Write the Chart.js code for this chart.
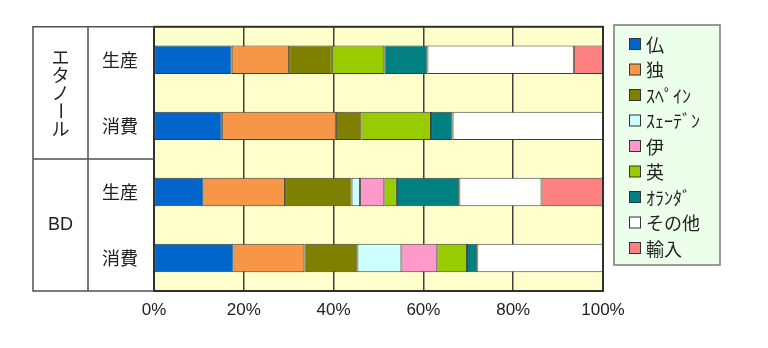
<!DOCTYPE html>
<html>
<head>
<meta charset="utf-8">
<script src="https://cdn.jsdelivr.net/npm/chart.js@4/dist/chart.umd.min.js"></script>
<style>
  html, body { margin: 0; padding: 0; background: #ffffff; }
  #wrap { width: 768px; height: 348px; }
</style>
</head>
<body>
<div id="wrap"><canvas id="c" width="768" height="348"></canvas></div>
<script>
// Row labels (bar categories) and the group each row belongs to
const rowLabels = ['生産', '消費', '生産', '消費'];
const groupLabels = ['エタノール', 'BD'];
const groupSpans = [[0, 1], [2, 3]];

// Share of each country/source in every row (percent)
const seriesNames = ['仏', '独', 'ｽﾍﾟｲﾝ', 'ｽｪｰﾃﾞﾝ', '伊', '英', 'ｵﾗﾝﾀﾞ', 'その他', '輸入'];
const france  = [17.3, 15.1, 11.0, 17.7];
const germany = [12.8, 25.4, 18.2, 15.8];
const spain   = [9.5,  5.7,  14.8, 11.8];
const sweden  = [0,    0,    1.9,  9.8];
const italy   = [0,    0,    5.4,  8.0];
const uk      = [11.7, 15.5, 2.8,  6.6];
const netherl = [9.6,  4.8,  13.9, 2.3];
const others  = [32.6, 33.5, 18.3, 28.0];
const imports = [6.5,  0,    13.7, 0];
const seriesValues = [france, germany, spain, sweden, italy, uk, netherl, others, imports];
const seriesColors = ['#0066CC', '#F79646', '#808000', '#CCFFFF', '#FF99CC', '#99CC00', '#008080', '#FFFFFF', '#FF8080'];

// Axis tick values
const xTicks = [0, 20, 40, 60, 80, 100];

const JP = '"Noto Sans CJK JP", "Noto Sans", sans-serif';
const LAT = '"Liberation Sans", Arial, sans-serif';
const LINE = '#404040';

// Pale yellow plot background and dark frame round the plot
const plotFrame = {
  id: 'plotFrame',
  beforeDraw(chart) {
    const a = chart.chartArea, ctx = chart.ctx;
    ctx.save();
    ctx.fillStyle = '#FFFFCC';
    ctx.fillRect(a.left, a.top, a.right - a.left, a.bottom - a.top);
    ctx.restore();
  },
  afterDatasetsDraw(chart) {
    const a = chart.chartArea, ctx = chart.ctx;
    ctx.save();
    ctx.strokeStyle = '#303030';
    ctx.lineWidth = 2;
    ctx.strokeRect(a.left, a.top, a.right - a.left, a.bottom - a.top);
    ctx.restore();
  }
};

// Left-hand table: group column, row column, and group labels
const rowTable = {
  id: 'rowTable',
  afterDraw(chart) {
    const a = chart.chartArea, ctx = chart.ctx, y = chart.scales.y;
    const left = 33, mid = 88;
    ctx.save();
    ctx.strokeStyle = '#505050';
    ctx.lineWidth = 1.5;
    ctx.beginPath();
    ctx.moveTo(a.left, a.top); ctx.lineTo(left, a.top);
    ctx.lineTo(left, a.bottom); ctx.lineTo(a.left, a.bottom);
    ctx.moveTo(mid, a.top); ctx.lineTo(mid, a.bottom);
    // divider between the two groups
    const divY = (y.getPixelForValue(1) + y.getPixelForValue(2)) / 2;
    ctx.moveTo(left, divY); ctx.lineTo(a.left, divY);
    ctx.stroke();

    ctx.fillStyle = '#222';
    ctx.textAlign = 'center';
    ctx.textBaseline = 'middle';
    const cx = (left + mid) / 2;
    groupLabels.forEach((lab, gi) => {
      const span = groupSpans[gi];
      const cy = (y.getPixelForValue(span[0]) + y.getPixelForValue(span[1])) / 2;
      if (/^[A-Za-z]+$/.test(lab)) {
        ctx.font = '18px ' + LAT;
        ctx.fillText(lab, cx, cy);
        return;
      }
      // vertical writing, one character per line
      ctx.font = '18px ' + JP;
      const chars = Array.from(lab);
      const step = 18;
      chars.forEach((ch, i) => {
        const py = cy + (i - (chars.length - 1) / 2) * step;
        if (ch === 'ー') {
          ctx.save();
          ctx.translate(cx, py);
          ctx.rotate(Math.PI / 2);
          ctx.fillText(ch, 0, 0);
          ctx.restore();
        } else {
          ctx.fillText(ch, cx, py);
        }
      });
    });
    ctx.restore();
  }
};

// Legend box on the right
const sideLegend = {
  id: 'sideLegend',
  afterDraw(chart) {
    const ctx = chart.ctx;
    const bx = 614, by = 25, bw = 106, bh = 240;
    ctx.save();
    ctx.fillStyle = '#EBFFEB';
    ctx.fillRect(bx, by, bw, bh);
    ctx.strokeStyle = '#7a7a7a';
    ctx.lineWidth = 1.5;
    ctx.strokeRect(bx, by, bw, bh);
    ctx.font = '18px ' + JP;
    ctx.textAlign = 'left';
    ctx.textBaseline = 'middle';
    chart.data.datasets.forEach((ds, i) => {
      const cy = 44 + i * 25.5;
      ctx.fillStyle = ds.backgroundColor;
      ctx.fillRect(629.5, cy - 5.5, 11, 11);
      ctx.strokeStyle = '#333';
      ctx.lineWidth = 1;
      ctx.strokeRect(629.5, cy - 5.5, 11, 11);
      ctx.fillStyle = '#222';
      ctx.fillText(ds.label, 646, cy + 1);
    });
    ctx.restore();
  }
};

new Chart(document.getElementById('c'), {
  type: 'bar',
  data: {
    labels: rowLabels,
    datasets: seriesNames.map((name, i) => ({
      label: name,
      data: seriesValues[i],
      backgroundColor: seriesColors[i],
      borderColor: '#3c3c3c',
      borderWidth: 1,
      borderSkipped: false,
      barPercentage: 1,
      categoryPercentage: 0.43
    }))
  },
  options: {
    indexAxis: 'y',
    responsive: false,
    animation: false,
    devicePixelRatio: 1,
    layout: { padding: { left: 88, right: 165, top: 23, bottom: 0 } },
    plugins: { legend: { display: false }, tooltip: { enabled: false } },
    scales: {
      x: {
        stacked: true,
        min: 0,
        max: 100,
        afterBuildTicks(scale) { scale.ticks = xTicks.map(v => ({ value: v })); },
        afterFit(scale) { scale.height = 57; },
        grid: { color: LINE, lineWidth: 1.5, drawTicks: false },
        border: { display: false },
        ticks: {
          padding: 9,
          color: '#222',
          font: { family: LAT, size: 17 },
          callback: v => v + '%'
        }
      },
      y: {
        stacked: true,
        afterFit(scale) { scale.width = 66; },
        grid: { display: false, drawTicks: false },
        border: { display: false },
        ticks: {
          padding: 16,
          color: '#222',
          font: { family: JP, size: 18 }
        }
      }
    }
  },
  plugins: [plotFrame, rowTable, sideLegend]
});
</script>
</body>
</html>
